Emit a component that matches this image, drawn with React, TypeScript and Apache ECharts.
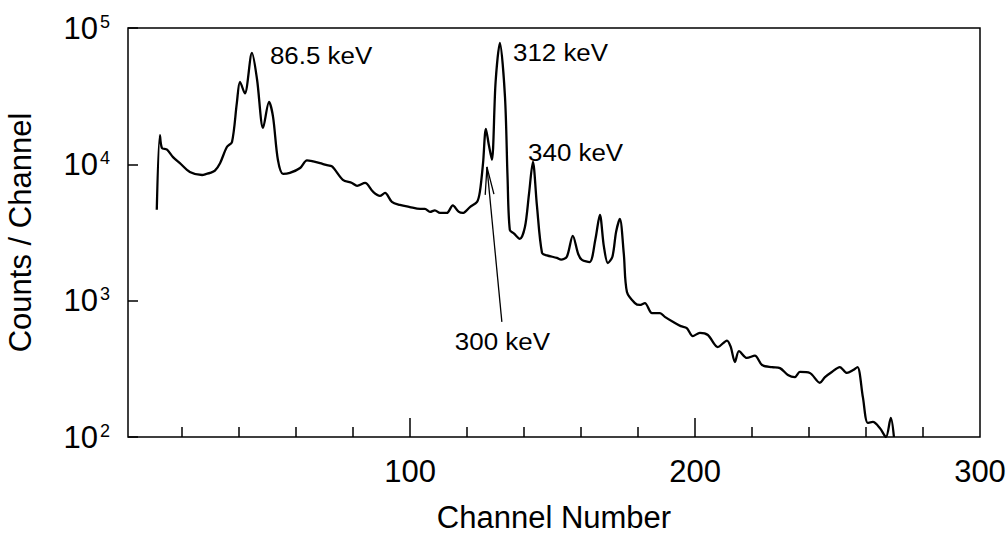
import React, { useEffect, useRef } from "react";
import * as echarts from "echarts";

const channels = [
  11.1, 12.2, 12.9, 14.7, 16.8, 19.2, 22.7, 27, 28.5, 29.8, 31.5, 33.3, 35.7, 37.5, 39.2, 40.3, 42, 44.5,
  46.3, 48.4, 50.5, 51.9, 53.6, 55.4, 57.8, 61.4, 63.8, 66, 68.4, 70.5, 72.6, 76.4, 79.6, 81.4, 84.2, 87,
  89.4, 91.2, 93.6, 96.4, 99.9, 103.5, 105.2, 107, 108.7, 110.5, 112.9, 115, 117, 118.5, 121, 123.5, 124.5,
  125.6, 126.6, 127.6, 128.7, 130, 131.5, 133.3, 134.2, 135, 136.5, 138.5, 140.3, 141.7, 143.1, 144.5,
  146.3, 148, 151.5, 153, 155, 157.1, 159, 160.3, 163, 165, 166.6, 168, 169.4, 171, 172.3, 173.6, 175,
  176.1, 178.9, 180.6, 182.4, 184.9, 187.7, 189.4, 192.2, 195, 197.1, 199.2, 201.7, 204.5, 208, 211.2,
  212.5, 214, 215.4, 218.2, 221, 223.5, 227, 229.8, 232.6, 235, 236.8, 240.3, 243.8, 245.6, 248, 250.8,
  253.3, 255.5, 257, 258.9, 260.6, 262.4, 264.9, 267, 268.7, 269.8,
];
const counts = [
  4640, 16400, 13200, 12800, 11300, 10200, 8800, 8350, 8500, 8650, 9000, 10200, 13400, 14600, 28200, 40300,
  33100, 65600, 41700, 18500, 28700, 22300, 10800, 8500, 8650, 9400, 10700, 10500, 10200, 9900, 9650, 7700,
  7300, 6950, 7300, 6300, 5870, 6170, 5300, 5040, 4860, 4710, 4710, 4480, 4600, 4400, 4400, 5000, 4500, 4400,
  4860, 5300, 6300, 10200, 18200, 14000, 10800, 40000, 77600, 31200, 8000, 3300, 3100, 2840, 3470, 6000,
  10400, 5000, 2240, 2150, 2060, 2000, 2100, 2990, 2200, 1990, 1920, 2800, 4250, 2500, 1890, 2100, 3200,
  3980, 2200, 1160, 960, 930, 960, 810, 810, 760, 700, 650, 630, 550, 580, 560, 457, 510, 460, 355, 427, 380,
  395, 337, 325, 320, 285, 275, 300, 295, 250, 275, 300, 326, 295, 310, 326, 196, 127, 129, 116, 100, 138, 100,
];

const xMajorTicks = [100, 200];
const xMinorTicks = [20, 40, 60, 80, 120, 140, 160, 180, 220, 240, 260, 280];
const xTickLabels = [100, 200, 300];

const labelTexts = ["86.5 keV", "312 keV", "340 keV", "300 keV"];
const labelChannels = [50.8, 136.1, 141.4, 115.7];
const labelCounts = [63500, 66800, 12300, 506];

const arrowFrom = [132.2, 699];
const arrowTo = [126.96, 9570];

const FONT = "'Liberation Sans', Arial, sans-serif";

export default function App() {
  const ref = useRef<HTMLDivElement>(null);
  useEffect(() => {
    if (!ref.current) return;
    const chart = echarts.init(ref.current, null, { renderer: "svg" });
    const baseX = { type: "value", min: 1, max: 300, splitLine: { show: false }, axisLine: { show: false } };
    chart.setOption({
      animation: false,
      backgroundColor: "#fff",
      grid: {
        left: 128, right: 27, top: 28, bottom: 99, containLabel: false, outerBoundsMode: "none",
        show: true, borderColor: "#000", borderWidth: 1.5,
      },
      xAxis: [
        {
          ...baseX,
          name: "Channel Number",
          nameLocation: "middle",
          nameGap: 69,
          nameTextStyle: { fontSize: 31, lineHeight: 22, fontFamily: FONT, color: "#000" },
          axisTick: { show: true, inside: true, length: 19, customValues: xMajorTicks, lineStyle: { color: "#000", width: 1.5 } },
          axisLabel: { customValues: xTickLabels, margin: 19, fontSize: 31, fontFamily: FONT, color: "#000" },
        },
        {
          ...baseX,
          position: "bottom",
          axisTick: { show: true, inside: true, length: 10, customValues: xMinorTicks, lineStyle: { color: "#000", width: 1.5 } },
          axisLabel: { show: false },
        },
      ],
      yAxis: {
        type: "log",
        logBase: 10,
        min: 100,
        max: 100000,
        splitLine: { show: false },
        axisLine: { show: false },
        minorTick: { show: false },
        axisTick: { show: true, inside: true, length: 10, lineStyle: { color: "#000", width: 1.5 } },
        name: "Counts / Channel",
        nameLocation: "middle",
        nameGap: 92,
        nameTextStyle: { fontSize: 31, fontFamily: FONT, color: "#000" },
        axisLabel: {
          margin: 18,
          formatter: (v: number) => `{b|10}{s|${Math.round(Math.log10(v))}}`,
          rich: {
            b: { fontSize: 31, fontFamily: FONT, color: "#000" },
            s: { fontSize: 18, fontFamily: FONT, color: "#000", verticalAlign: "top", padding: [0, 0, 0, 2] },
          },
        },
      },
      series: [
        {
          type: "line",
          xAxisIndex: 0,
          data: channels.map((c, i) => [c, counts[i]]),
          showSymbol: false,
          smooth: 0.3,
          clip: true,
          lineStyle: { color: "#000", width: 2.3 },
        },
      ],
    });

    const px = (p: number[]) => chart.convertToPixel({ gridIndex: 0 }, p) as number[];
    const graphics: any[] = labelTexts.map((t, i) => {
      const [x, y] = px([labelChannels[i], labelCounts[i]]);
      return {
        type: "text",
        x,
        y,
        scaleX: 1.08,
        style: { text: t, fontSize: 24, fontFamily: FONT, fill: "#000", align: "left", verticalAlign: "middle" },
      };
    });
    const s = px(arrowFrom);
    const t = px(arrowTo);
    const dx = s[0] - t[0];
    const dy = s[1] - t[1];
    const len = Math.hypot(dx, dy);
    const ux = dx / len;
    const uy = dy / len;
    const ang = (9 * Math.PI) / 180;
    const bl = 28;
    const rot = (a: number) => [t[0] + bl * (ux * Math.cos(a) - uy * Math.sin(a)), t[1] + bl * (ux * Math.sin(a) + uy * Math.cos(a))];
    graphics.push({ type: "line", shape: { x1: s[0], y1: s[1], x2: t[0], y2: t[1] }, style: { stroke: "#000", lineWidth: 1.3 } });
    graphics.push({ type: "polyline", shape: { points: [rot(ang), t, rot(-ang)] }, style: { stroke: "#000", lineWidth: 1.3, fill: null } });
    chart.setOption({ graphic: graphics });

    return () => chart.dispose();
  }, []);
  return <div ref={ref} style={{ position: "fixed", left: 0, top: 0, width: 1007, height: 536 }} />;
}
